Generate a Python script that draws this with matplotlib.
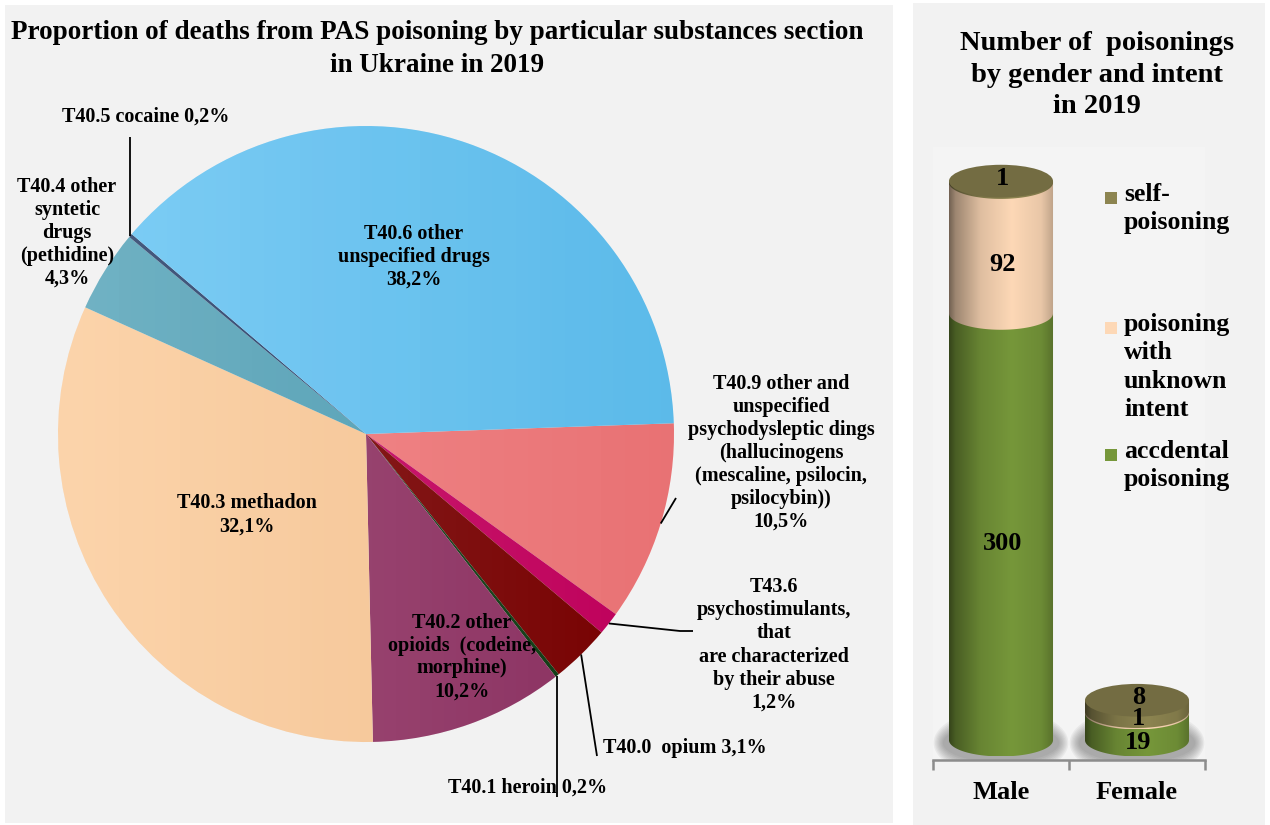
import numpy as np
import matplotlib
matplotlib.use('Agg')
import matplotlib.pyplot as plt
from matplotlib.patches import Rectangle, Ellipse, Polygon, Circle
import matplotlib.colors as mcolors

plt.rcParams['font.family'] = ['Liberation Serif', 'DejaVu Serif']
plt.rcParams['font.weight'] = 'bold'

# ---------------- data ----------------
pie_names = ['T40.9 other and\nunspecified\npsychodysleptic dings\n(hallucinogens\n(mescaline, psilocin,\npsilocybin))',
             'T43.6\npsychostimulants,\nthat\nare characterized\nby their abuse',
             'T40.0  opium',
             'T40.1 heroin',
             'T40.2 other\nopioids  (codeine,\nmorphine)',
             'T40.3 methadon',
             'T40.4 other\nsyntetic\ndrugs\n(pethidine)',
             'T40.5 cocaine',
             'T40.6 other\nunspecified drugs']
pie_values = [10.5, 1.2, 3.1, 0.2, 10.2, 32.1, 4.3, 0.2, 38.2]
pie_colors = ['#f27779', '#c6005e', '#7a0000', '#0d3a10', '#8f3062',
              '#fbc996', '#4fa0b6', '#1f3864', '#60c2f3']

genders = ['Male', 'Female']
accidental = [300, 19]
unknown_intent = [92, 1]
self_poisoning = [1, 8]
series_labels = ['accdental\npoisoning', 'poisoning\nwith\nunknown\nintent', 'self-\npoisoning']
series_colors = ['#76973a', '#fdd8b6', '#8c8450']

W, H = 1270, 825
fig = plt.figure(figsize=(W / 100, H / 100), dpi=100)
fig.patch.set_facecolor('white')


def fx(x):
    return x / W


def fy(y):
    return 1 - y / H


# panel backgrounds
fig.patches.append(Rectangle((fx(5), fy(823)), 888 / W, 818 / H, transform=fig.transFigure,
                             facecolor='#f2f2f2', edgecolor='none', zorder=-5))
fig.patches.append(Rectangle((fx(913), fy(825)), 352 / W, 822 / H, transform=fig.transFigure,
                             facecolor='#f2f2f2', edgecolor='none', zorder=-5))

# ---------------- pie ----------------
CX, CY, R = 366, 434, 308
ax = fig.add_axes([fx(5), fy(823), 888 / W, 818 / H])
ax.set_zorder(1)


def P(x, y):
    return ((x - CX) / R, (CY - y) / R)


wedges, _ = ax.pie(pie_values, colors=pie_colors, startangle=2, counterclock=False,
                   radius=1, center=(0, 0), wedgeprops=dict(linewidth=0))

grad = np.ones((1, 256, 4))
grad[..., 3] = np.linspace(0.20, 0.0, 256)
im = ax.imshow(grad, extent=(-1, 1, -1, 1), aspect='auto', zorder=3)
im.set_clip_path(Circle((0, 0), 1, transform=ax.transData))
shade = np.zeros((1, 256, 4))
shade[..., 3] = np.linspace(0.0, 0.04, 256)
im2 = ax.imshow(shade, extent=(-1, 1, -1, 1), aspect='auto', zorder=3)
im2.set_clip_path(Circle((0, 0), 1, transform=ax.transData))

ax.set_xlim((5 - CX) / R, (893 - CX) / R)
ax.set_ylim((CY - 823) / R, (CY - 5) / R)
ax.set_aspect('auto')
ax.axis('off')


def pct(v):
    return f'{v:.1f}'.replace('.', ',') + '%'


def rim(i, r=1.0):
    w = wedges[i]
    t = np.deg2rad((w.theta1 + w.theta2) / 2)
    return r * np.cos(t), r * np.sin(t)


fs = 14.5
tk = dict(fontsize=fs, fontweight='bold', zorder=5, linespacing=1.2)

# inside labels
ax.text(*P(414, 257), pie_names[8] + '\n' + pct(pie_values[8]), ha='center', va='center', **tk)
ax.text(*P(247, 515), pie_names[5] + '\n' + pct(pie_values[5]), ha='center', va='center', **tk)
ax.text(*P(462, 657), pie_names[4] + '\n' + pct(pie_values[4]), ha='center', va='center', **tk)
# outside labels
ax.text(*P(781, 453), pie_names[0] + '\n' + pct(pie_values[0]), ha='center', va='center', **tk)
ax.text(*P(774, 645), pie_names[1] + '\n' + pct(pie_values[1]), ha='center', va='center', **tk)
ax.text(*P(603, 748), pie_names[2] + ' ' + pct(pie_values[2]), ha='left', va='center', **tk)
ax.text(*P(448, 788), pie_names[3] + ' ' + pct(pie_values[3]), ha='left', va='center', **tk)
ax.text(*P(67, 233), pie_names[6] + '\n' + pct(pie_values[6]), ha='center', va='center', **tk)
ax.text(*P(146, 117), pie_names[7] + ' ' + pct(pie_values[7]), ha='center', va='center', **tk)

lk = dict(color='black', lw=1.3, zorder=4, solid_capstyle='butt')
# leader lines
x0, y0 = rim(0)
x1, y1 = P(676, 498)
ax.plot([x0, x1], [y0, y1], **lk)
x0, y0 = rim(1)
xa, ya = P(680, 631)
xb, yb = P(693, 631)
ax.plot([x0, xa, xb], [y0, ya, yb], **lk)
x0, y0 = rim(2)
x1, y1 = P(597, 756)
ax.plot([x0, x1], [y0, y1], **lk)
x0, y0 = rim(3)
_, y1 = P(0, 797)
ax.plot([x0, x0], [y0, y1], **lk)
x0, y0 = rim(7)
_, y1 = P(0, 137)
ax.plot([x0, x0], [y0, y1], **lk)

fig.text(fx(437), fy(49), 'Proportion of deaths from PAS poisoning by particular substances section\nin Ukraine in 2019',
         ha='center', va='center', fontsize=19.5, fontweight='bold', linespacing=1.4)

# ---------------- cylinders ----------------
PX0, PX1, PY0, PY1 = 933, 1205, 147, 760
axb = fig.add_axes([fx(PX0), fy(PY1), (PX1 - PX0) / W, (PY1 - PY0) / H])
axb.set_zorder(1)
axb.set_facecolor('#f4f4f4')
YMIN, YMAX = -14, 417
CW = 0.765
RY = 11.5


def shade_img(color, prof):
    rgb = np.array(mcolors.to_rgb(color))
    t = np.linspace(0, 1, 200)
    f = np.interp(t, [0, 0.06, 0.3, 0.6, 0.88, 1.0], prof)
    img = np.clip(rgb[None, :] * f[:, None], 0, 1)
    return img[None, :, :]


PROF = [0.45, 0.62, 0.88, 1.0, 0.92, 0.75]
theta = np.linspace(0, -np.pi, 60)

x_pos = np.arange(len(genders))
stacks = [accidental, unknown_intent, self_poisoning]

# base shadows
for xc in x_pos:
    for k in range(8):
        e = Ellipse((xc, -2), CW * (1.12 + 0.025 * k), RY * (2.4 + 0.25 * k),
                    facecolor='#555555', edgecolor='none', alpha=0.07, zorder=1)
        axb.add_patch(e)

z = 2
for xc in x_pos:
    bottom = 0
    for s, vals in enumerate(stacks):
        v = vals[xc]
        top = bottom + v
        xl, xr = xc - CW / 2, xc + CW / 2
        pts = [(xl, top), (xr, top)] + [(xc + CW / 2 * np.cos(t), bottom + RY * np.sin(t)) for t in theta]
        poly = Polygon(pts, closed=True, facecolor='none', edgecolor='none', transform=axb.transData)
        axb.add_patch(poly)
        img = axb.imshow(shade_img(series_colors[s], PROF), extent=(xl, xr, bottom - RY, top),
                         aspect='auto', zorder=z, interpolation='bilinear')
        img.set_clip_path(poly)
        z += 1
        bottom = top
    cap_rgb = np.array(mcolors.to_rgb(series_colors[2])) * 0.82
    axb.add_patch(Ellipse((xc, bottom), CW, 2 * RY, facecolor=cap_rgb, edgecolor='none', zorder=z))
    z += 1

# value labels
for xc in x_pos:
    bottom = 0
    for s, vals in enumerate(stacks):
        v = vals[xc]
        top = bottom + v
        if s == len(stacks) - 1:
            yl = top + 2
        else:
            yl = (bottom + top) / 2 - RY * min(1.0, (v + 8) / (2 * RY))
        axb.text(xc + 0.01, yl, str(v), ha='center', va='center', fontsize=19,
                 fontweight='bold', zorder=50)
        bottom = top

axb.set_xlim(-0.5, 1.5)
axb.set_ylim(YMIN, YMAX)
for sp in ['top', 'left', 'right']:
    axb.spines[sp].set_visible(False)
axb.spines['bottom'].set_color('#8c8c8c')
axb.spines['bottom'].set_linewidth(1.8)
axb.set_yticks([])
axb.set_xticks([-0.5, 0.5, 1.5])
axb.set_xticklabels([])
axb.tick_params(axis='x', which='major', length=7, width=1.8, color='#8c8c8c', direction='out')
axb.set_xticks(x_pos, minor=True)
axb.set_xticklabels(genders, minor=True, fontsize=19, fontweight='bold')
axb.tick_params(axis='x', which='minor', length=0, pad=15)

# legend (manual)
leg_y = [455, 328, 198]
for s in range(3):
    fig.patches.append(Rectangle((fx(1105), fy(leg_y[s] + 6)), 12 / W, 12 / H, transform=fig.transFigure,
                                 facecolor=series_colors[s], edgecolor='none', zorder=5))
    fig.text(fx(1124), fy(leg_y[s] - 15), series_labels[s], ha='left', va='top', fontsize=18.5,
             fontweight='bold', linespacing=1.3)

fig.text(fx(1097), fy(75), 'Number of  poisonings\nby gender and intent\nin 2019', ha='center', va='center',
         fontsize=20.5, fontweight='bold', linespacing=1.36)

fig.savefig('out.png', dpi=100)
